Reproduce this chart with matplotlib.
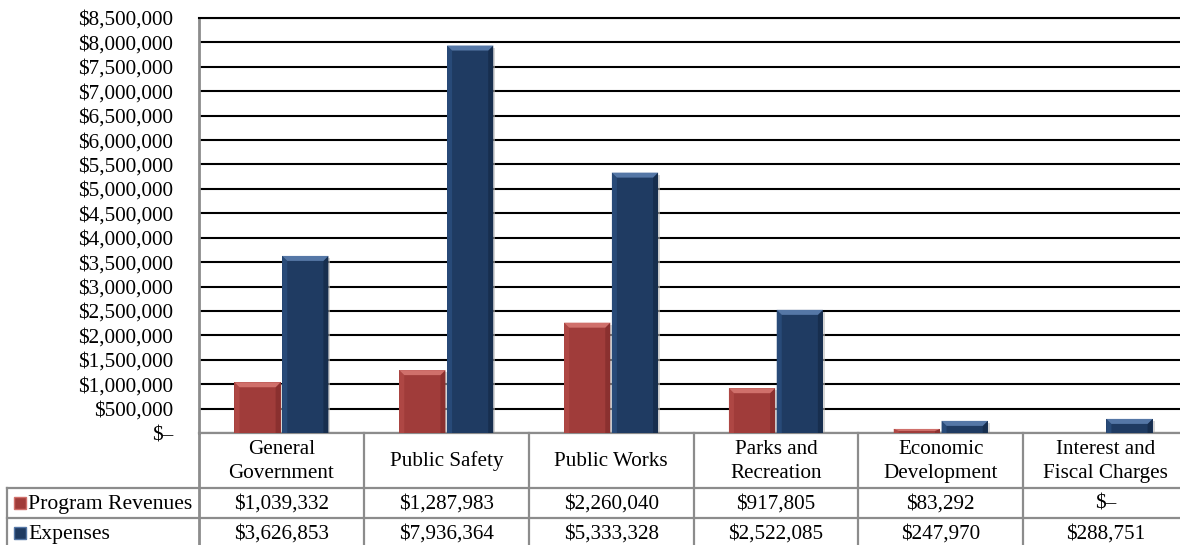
import matplotlib
matplotlib.use("Agg")
import matplotlib.pyplot as plt
from matplotlib.patches import Polygon, Rectangle
from matplotlib.lines import Line2D
from matplotlib.transforms import blended_transform_factory

# ---------------- data ----------------
categories = ["General\nGovernment", "Public Safety", "Public Works",
              "Parks and\nRecreation", "Economic\nDevelopment",
              "Interest and\nFiscal Charges"]
series_names = ["Program Revenues", "Expenses"]
revenues = [1039332, 1287983, 2260040, 917805, 83292, 0]
expenses = [3626853, 7936364, 5333328, 2522085, 247970, 288751]
y_ticks = list(range(0, 8500001, 500000))

# ---------------- style ----------------
W, H = 1180, 545
FONT = "Liberation Serif"
FS = 15.2
base_cols = ["#A03C3A", "#1F3B62"]
top_cols = ["#D0706B", "#5577A6"]
left_cols = ["#AE4744", "#284A78"]
right_cols = ["#8A302F", "#172E4E"]
grid_col = "#000000"
line_grey = "#8C8C8C"

plt.rcParams["font.family"] = [FONT, "DejaVu Serif"]

fig = plt.figure(figsize=(W / 100, H / 100), dpi=100)
ax_l, ax_r, ax_t, ax_b = 199, 1188, 18, 433
ax = fig.add_axes([ax_l / W, 1 - ax_b / H, (ax_r - ax_l) / W, (ax_b - ax_t) / H])
ax_wpx, ax_hpx = ax_r - ax_l, ax_b - ax_t

n = len(categories)
ax.set_xlim(-0.5, n - 0.5)
ax.set_ylim(0, y_ticks[-1])

# grid
ax.set_yticks(y_ticks)
ax.yaxis.grid(True, color=grid_col, lw=1.5)
ax.set_axisbelow(True)
ax.set_xticks([])
ax.spines["right"].set_visible(False)
ax.spines["top"].set_color(grid_col)
ax.spines["top"].set_linewidth(1.5)
ax.spines["left"].set_color(line_grey)
ax.spines["left"].set_linewidth(2)
ax.spines["bottom"].set_color(line_grey)
ax.spines["bottom"].set_linewidth(1.6)

def fmt(v):
    return "$\u2013" if v == 0 else "${:,.0f}".format(v)

ax.set_yticklabels([fmt(v) for v in y_ticks], fontsize=FS, family=FONT)
ax.tick_params(axis="y", length=0, pad=18.5)

# bars with bevel
bw = 0.28
offs = [-0.145, 0.145]
px_x = n / ax_wpx            # data units per pixel in x
px_y = y_ticks[-1] / ax_hpx  # data units per pixel in y
bev = 5
for si, vals in enumerate([revenues, expenses]):
    xs = [i + offs[si] for i in range(n)]
    for x, h in zip(xs, vals):
        if h <= 0:
            continue
        x0, x1 = x - bw / 2, x + bw / 2
        dx = bev * px_x
        dy = min(bev * px_y, h / 2)
        ax.add_patch(Rectangle((x0 + 2 * px_x, 0), bw, h - 2 * px_y,
                               facecolor="#BBBBBB", edgecolor="none", alpha=0.6, zorder=2))
        ax.bar(x, h, width=bw, color=base_cols[si], edgecolor="none", zorder=3)
        ax.add_patch(Polygon([(x0, 0), (x0, h), (x0 + dx, h - dy), (x0 + dx, 0)],
                             closed=True, facecolor=left_cols[si], edgecolor="none", zorder=4))
        ax.add_patch(Polygon([(x1, 0), (x1, h), (x1 - dx, h - dy), (x1 - dx, 0)],
                             closed=True, facecolor=right_cols[si], edgecolor="none", zorder=4))
        ax.add_patch(Polygon([(x0, h), (x1, h), (x1 - dx, h - dy), (x0 + dx, h - dy)],
                             closed=True, facecolor=top_cols[si], edgecolor="none", zorder=5))

# ---------------- data table ----------------
def ay(ypx):
    return (ax_b - ypx) / ax_hpx

def axx(xpx):
    return (xpx - ax_l) / ax_wpx

bt = blended_transform_factory(ax.transData, ax.transAxes)
row_y = [433, 488, 518, 548]
left_px = 7
lw_t = 1.6

for yp in row_y[1:]:
    ax.add_line(Line2D([axx(left_px), 1], [ay(yp), ay(yp)], transform=ax.transAxes,
                       color=line_grey, lw=lw_t, clip_on=False))
for i in range(n):
    xb = i + 0.5
    ax.add_line(Line2D([xb, xb], [ay(row_y[0]), ay(row_y[-1])], transform=bt,
                       color=line_grey, lw=lw_t, clip_on=False))
ax.add_line(Line2D([0, 0], [ay(row_y[0]), ay(row_y[-1])], transform=ax.transAxes,
                   color=line_grey, lw=2, clip_on=False))
ax.add_line(Line2D([axx(left_px)] * 2, [ay(row_y[1]), ay(row_y[-1])], transform=ax.transAxes,
                   color=line_grey, lw=lw_t, clip_on=False))

for i, c in enumerate(categories):
    ax.text(i, ay((row_y[0] + row_y[1]) / 2 + 1), c, transform=bt, ha="center", va="center",
            fontsize=FS, family=FONT, linespacing=1.33, clip_on=False)

for si, vals in enumerate([revenues, expenses]):
    ymid = (row_y[si + 1] + row_y[si + 2]) / 2
    ax.add_patch(Rectangle((axx(14), ay(ymid + 6)), 12 / ax_wpx, 12 / ax_hpx,
                           transform=ax.transAxes, facecolor=base_cols[si],
                           edgecolor=top_cols[si], lw=1, clip_on=False))
    ax.text(axx(28), ay(ymid + 1), series_names[si], transform=ax.transAxes,
            ha="left", va="center", fontsize=15.6, family=FONT, clip_on=False)
    for i, v in enumerate(vals):
        ax.text(i, ay(ymid + 1), fmt(v), transform=bt, ha="center", va="center",
                fontsize=FS, family=FONT, clip_on=False)

fig.savefig("out.png", dpi=100, facecolor="white")
